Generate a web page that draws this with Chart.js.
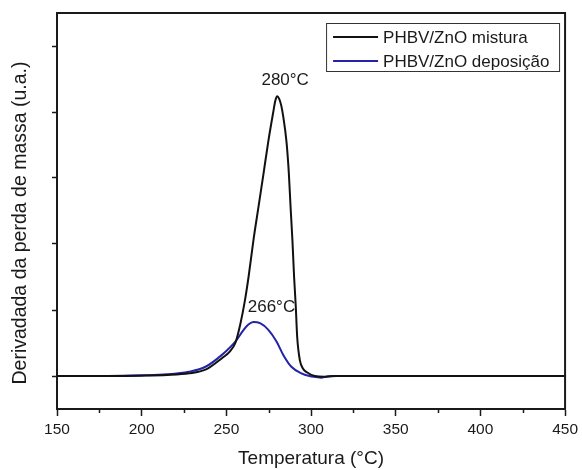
<!DOCTYPE html>
<html>
<head>
<meta charset="utf-8">
<script src="https://cdn.jsdelivr.net/npm/chart.js@4/dist/chart.umd.min.js"></script>
<style>
  html, body { margin: 0; padding: 0; background: #fff; }
  #wrap { width: 582px; height: 470px; }
</style>
</head>
<body>
<div id="wrap"><canvas id="c" width="582" height="470"></canvas></div>
<script>
// DTG curves (derivative of mass loss, arbitrary units) vs temperature
const misturaTemp = [150, 180, 200, 215, 228, 238, 247.4, 252, 255.3, 258.2, 261, 263.1, 266, 268.9, 271.9, 274.8, 277.7, 278.9, 280, 281.2, 282.4, 283.6, 285.5, 286.9, 287.9, 289, 290, 291, 291.8, 293.4, 295.3, 297.3, 302.2, 308, 315, 350, 400, 450];
const misturaDtg  = [0, 0, 0.005, 0.015, 0.04, 0.10, 0.27, 0.37, 0.50, 0.78, 1.15, 1.50, 2.06, 2.55, 3.06, 3.56, 4.00, 4.17, 4.24, 4.20, 4.10, 3.93, 3.55, 3.07, 2.57, 2.06, 1.50, 1.05, 0.60, 0.24, 0.11, 0.06, 0.0, -0.01, 0, 0, 0, 0];

const deposicaoTemp = [150, 180, 200, 215, 227.9, 237.7, 247.4, 255.3, 260.2, 263, 266, 269.9, 274.8, 279.7, 283.6, 288.4, 294.3, 299, 303, 306, 309, 313, 350, 400, 450];
const deposicaoDtg  = [0, 0, 0.01, 0.025, 0.065, 0.14, 0.32, 0.52, 0.70, 0.78, 0.82, 0.80, 0.70, 0.52, 0.32, 0.14, 0.04, 0.0, -0.015, -0.025, -0.01, 0, 0, 0, 0];

const seriesNames = ['PHBV/ZnO mistura', 'PHBV/ZnO deposição'];
const seriesColors = ['#111111', '#2323a6'];

// peak annotations
const peakTemps  = [280, 266];
const peakLabels = ['280°C', '266°C'];

// axis ticks
const xMajorTicks = [150, 200, 250, 300, 350, 400, 450];
const xMinorTicks = [175, 225, 275, 325, 375, 425];
const yTicks = [0, 1, 2, 3, 4, 5];

const FONT = '"Liberation Sans", Arial, Helvetica, sans-serif';
const INK = '#1a1a1a';

function toPoints(xs, ys) {
  return xs.map((x, i) => ({ x: x, y: ys[i] }));
}

const series = [toPoints(misturaTemp, misturaDtg), toPoints(deposicaoTemp, deposicaoDtg)];

const decorations = {
  id: 'decorations',
  afterDraw(chart) {
    const { ctx, chartArea: a, scales } = chart;
    const xs = scales.x, ys = scales.y;
    ctx.save();

    // top and right frame
    ctx.strokeStyle = INK;
    ctx.lineWidth = 2;
    ctx.beginPath();
    ctx.moveTo(a.left, a.top);
    ctx.lineTo(a.right, a.top);
    ctx.lineTo(a.right, a.bottom);
    ctx.stroke();

    // minor x ticks
    ctx.lineWidth = 1.5;
    ctx.beginPath();
    xMinorTicks.forEach(t => {
      const px = Math.round(xs.getPixelForValue(t)) + 0.5;
      ctx.moveTo(px, a.bottom);
      ctx.lineTo(px, a.bottom + 4);
    });
    ctx.stroke();

    // y axis title
    ctx.fillStyle = INK;
    ctx.font = '19.5px ' + FONT;
    ctx.textAlign = 'center';
    ctx.textBaseline = 'middle';
    ctx.translate(21, (a.top + a.bottom) / 2 + 12);
    ctx.rotate(-Math.PI / 2);
    ctx.fillText('Derivadada da perda de massa (u.a.)', 0, 0);
    ctx.setTransform(1, 0, 0, 1, 0, 0);

    // peak labels
    ctx.font = '17px ' + FONT;
    ctx.textAlign = 'center';
    ctx.textBaseline = 'middle';
    const labelShift = [[8, -16], [18, -15]];
    peakTemps.forEach((t, i) => {
      const d = series[i].find(p => p.x === t);
      const px = xs.getPixelForValue(d.x);
      const py = ys.getPixelForValue(d.y);
      ctx.fillText(peakLabels[i], px + labelShift[i][0], py + labelShift[i][1]);
    });

    // legend box
    const bx = a.right - 239, by = a.top + 10, bw = 233, bh = 48;
    ctx.strokeStyle = '#333';
    ctx.lineWidth = 1;
    ctx.strokeRect(bx + 0.5, by + 0.5, bw, bh);
    ctx.font = '17px ' + FONT;
    ctx.textAlign = 'left';
    chart.data.datasets.forEach((ds, i) => {
      const cy = by + 14 + i * 24;
      ctx.strokeStyle = ds.borderColor;
      ctx.lineWidth = 2;
      ctx.beginPath();
      ctx.moveTo(bx + 7, cy);
      ctx.lineTo(bx + 52, cy);
      ctx.stroke();
      ctx.fillStyle = INK;
      ctx.fillText(ds.label, bx + 57, cy + 1);
    });

    ctx.restore();
  }
};

new Chart(document.getElementById('c'), {
  type: 'line',
  data: {
    datasets: series.map((pts, i) => ({
      label: seriesNames[i],
      data: pts,
      borderColor: seriesColors[i],
      borderWidth: 2,
      pointRadius: 0,
      fill: false,
      cubicInterpolationMode: 'monotone'
    }))
  },
  options: {
    responsive: false,
    animation: false,
    devicePixelRatio: 1,
    layout: { padding: { top: 13, right: 13, left: 0, bottom: 0 } },
    plugins: {
      legend: { display: false },
      tooltip: { enabled: false }
    },
    scales: {
      x: {
        type: 'linear',
        min: 150,
        max: 450,
        afterFit(scale) { scale.height = 61; },
        afterBuildTicks(scale) { scale.ticks = xMajorTicks.map(v => ({ value: v })); },
        ticks: {
          color: INK,
          padding: 4,
          maxRotation: 0,
          font: { family: FONT, size: 15.5 }
        },
        grid: {
          drawOnChartArea: false,
          drawTicks: true,
          tickLength: 7,
          tickWidth: 1.5,
          tickColor: INK
        },
        border: { display: true, color: INK, width: 2 },
        title: {
          display: true,
          text: 'Temperatura (°C)',
          color: INK,
          font: { family: FONT, size: 19 },
          padding: { top: 0, bottom: 0 }
        }
      },
      y: {
        type: 'linear',
        min: -0.5,
        max: 5.5,
        afterFit(scale) { scale.width = 57; },
        afterBuildTicks(scale) { scale.ticks = yTicks.map(v => ({ value: v })); },
        ticks: {
          callback: () => '',
          font: { family: FONT, size: 15 }
        },
        grid: {
          drawOnChartArea: false,
          drawTicks: true,
          tickLength: 5,
          tickWidth: 1.5,
          tickColor: INK
        },
        border: { display: true, color: INK, width: 2 }
      }
    }
  },
  plugins: [decorations]
});
</script>
</body>
</html>
